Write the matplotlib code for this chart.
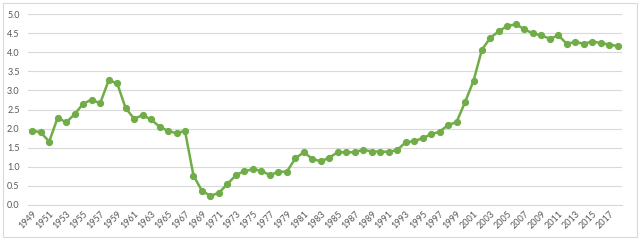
import matplotlib
matplotlib.use("Agg")
import matplotlib.pyplot as plt
from matplotlib.patches import Rectangle

years = list(range(1949, 2019))
values = [1.95, 1.90, 1.66, 2.29, 2.16, 2.38, 2.65, 2.76, 2.66, 3.26,
          3.19, 2.54, 2.26, 2.35, 2.24, 2.05, 1.94, 1.88, 1.94, 0.77,
          0.37, 0.24, 0.32, 0.55, 0.78, 0.89, 0.93, 0.90, 0.78, 0.87,
          0.87, 1.22, 1.38, 1.21, 1.14, 1.24, 1.38, 1.38, 1.38, 1.45,
          1.40, 1.40, 1.39, 1.44, 1.64, 1.67, 1.75, 1.85, 1.92, 2.09,
          2.17, 2.69, 3.25, 4.07, 4.38, 4.55, 4.69, 4.73, 4.60, 4.49,
          4.44, 4.35, 4.44, 4.22, 4.27, 4.22, 4.28, 4.24, 4.20, 4.16]
yticks = [0.0, 0.5, 1.0, 1.5, 2.0, 2.5, 3.0, 3.5, 4.0, 4.5, 5.0]
xtick_years = years[::2]

plt.rcParams['font.family'] = ['Lato', 'DejaVu Sans']

fig = plt.figure(figsize=(6.4, 2.4), dpi=100)
ax = fig.add_axes([28/640, 35/240, (622-28)/640, (205-14)/240])

ax.plot(years, values, color='#70AD47', lw=1.8, marker='o', ms=4.2,
        markerfacecolor='#70AD47', markeredgecolor='#70AD47', zorder=3)

ax.set_xlim(1948.5, 2018.5)
ax.set_ylim(0, 5.0)
ax.set_yticks(yticks)
ax.set_yticklabels([f"{v:.1f}" for v in yticks])
ax.set_xticks(xtick_years)
ax.set_xticklabels([str(y) for y in xtick_years], rotation=45, ha='right',
                   rotation_mode='anchor')
ax.grid(axis='y', color='#d9d9d9', lw=0.8)
ax.set_axisbelow(True)
for s in ['top', 'right', 'left']:
    ax.spines[s].set_visible(False)
ax.spines['bottom'].set_color('#d9d9d9')
ax.tick_params(axis='both', length=0, labelsize=6.5, labelcolor='#595959')
ax.tick_params(axis='y', pad=6)
ax.tick_params(axis='x', pad=3)

fig.patches.append(Rectangle((3/640, 3/240), 634/640, 234/240, transform=fig.transFigure,
                             fill=False, edgecolor='#d9d9d9', lw=0.8))

fig.savefig('out.png', dpi=100)
